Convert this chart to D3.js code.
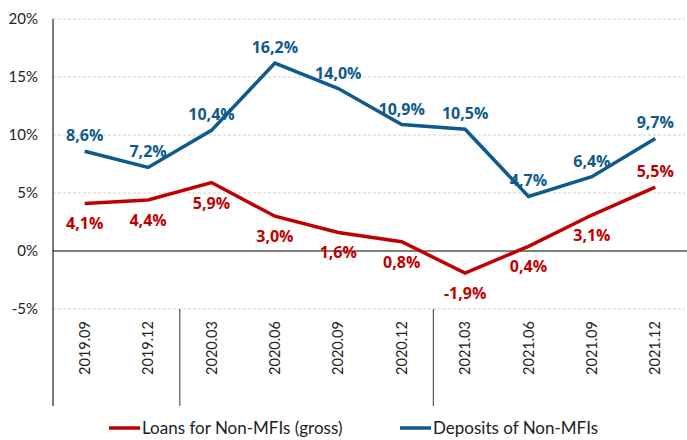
<!DOCTYPE html>
<html>
<head>
<meta charset="utf-8">
<script src="https://cdn.jsdelivr.net/npm/d3@7"></script>
<style>
  body { margin: 0; background: #fff; }
  text { font-family: Lato, "Noto Sans", sans-serif; }
</style>
</head>
<body>
<div id="chart"></div>
<script>
const categories = ['2019.09', '2019.12', '2020.03', '2020.06', '2020.09', '2020.12', '2021.03', '2021.06', '2021.09', '2021.12'];
const loans = [4.1, 4.4, 5.9, 3.0, 1.6, 0.8, -1.9, 0.4, 3.1, 5.5];
const deposits = [8.6, 7.2, 10.4, 16.2, 14.0, 10.9, 10.5, 4.7, 6.4, 9.7];
const yTicks = [-5, 0, 5, 10, 15, 20];
const loansLabelAbove = [false, false, false, false, false, false, false, false, false, true];

const series = [
  {name: 'Loans for Non-MFIs (gross)', values: loans, color: '#c00000', above: loansLabelAbove},
  {name: 'Deposits of Non-MFIs', values: deposits, color: '#0f5a8c', above: deposits.map(() => true)}
];

const W = 687, H = 440;
const margin = {top: 19, right: 0, bottom: 131, left: 53};
const width = W - margin.left - margin.right;
const height = H - margin.top - margin.bottom;
const fmt = v => d3.format('.1f')(v).replace('.', ',').replace('\u2212', '-') + '%';

const svg = d3.select('#chart')
  .append('svg')
  .attr('width', W)
  .attr('height', H);
const g = svg.append('g')
  .attr('transform', `translate(${margin.left}, ${margin.top})`);

const x = d3.scaleBand()
  .domain(categories)
  .range([0, width]);
const y = d3.scaleLinear()
  .domain([-5, 20])
  .range([height, 0]);

// grid
g.selectAll('.grid')
  .data(yTicks.filter(d => d !== 0))
  .join('line')
  .attr('class', 'grid')
  .attr('x1', 0)
  .attr('x2', width - 2)
  .attr('y1', d => y(d))
  .attr('y2', d => y(d))
  .attr('stroke', '#d0d0d0')
  .attr('stroke-width', 1)
  .attr('stroke-dasharray', '3,2');

// y axis
const yAxis = g.append('g')
  .call(d3.axisLeft(y).tickValues(yTicks).tickSize(0).tickPadding(15).tickFormat(d => d + '%'))
  .call(g => g.select('.domain').remove());
yAxis.selectAll('text')
  .attr('font-size', 15)
  .attr('fill', '#222')
  .style('font-family', 'Lato, sans-serif');

// vertical axis line
g.append('line')
  .attr('x1', 0).attr('x2', 0)
  .attr('y1', 0).attr('y2', height + 97)
  .attr('stroke', '#333').attr('stroke-width', 1.3);

// zero line
g.append('line')
  .attr('x1', 0).attr('x2', width)
  .attr('y1', y(0)).attr('y2', y(0))
  .attr('stroke', '#000').attr('stroke-width', 1.2);

// category group separators
g.selectAll('.sep')
  .data(categories.filter((d, i) => i > 0 && d.endsWith('.03')))
  .join('line')
  .attr('class', 'sep')
  .attr('x1', d => x(d)).attr('x2', d => x(d))
  .attr('y1', height).attr('y2', height + 97)
  .attr('stroke', '#555').attr('stroke-width', 1.2);

// x labels
const xAxis = g.append('g')
  .attr('transform', `translate(0, ${height})`)
  .call(d3.axisBottom(x).tickSize(0))
  .call(g => g.select('.domain').remove());
xAxis.selectAll('text')
  .attr('font-size', 14.5)
  .attr('fill', '#222')
  .style('font-family', 'Lato, sans-serif')
  .attr('text-anchor', 'middle')
  .attr('dy', null)
  .attr('y', 0)
  .attr('transform', 'translate(5, 39) rotate(-90)');

const line = d3.line()
  .x((d, i) => x(categories[i]) + x.bandwidth() / 2)
  .y(d => y(d));

series.forEach(s => {
  g.append('path')
    .datum(s.values)
    .attr('fill', 'none')
    .attr('stroke', s.color)
    .attr('stroke-width', 3.5)
    .attr('stroke-linejoin', 'miter')
    .attr('d', line);

  g.selectAll(null)
    .data(s.values)
    .join('text')
    .text(d => fmt(d))
    .attr('x', (d, i) => x(categories[i]) + x.bandwidth() / 2)
    .attr('y', (d, i) => y(d) + (s.above[i] ? -10 : 26))
    .attr('text-anchor', 'middle')
    .attr('font-size', 16)
    .attr('font-weight', 'bold')
    .style('font-family', '"Open Sans", sans-serif')
    .attr('fill', s.color);
});

// legend
const legend = svg.append('g')
  .attr('transform', `translate(109, 428)`);
series.forEach((s, i) => {
  const item = legend.append('g').attr('transform', `translate(${i === 0 ? 0 : 291}, 0)`);
  item.append('line')
    .attr('x1', 0).attr('x2', 31)
    .attr('y1', 0).attr('y2', 0)
    .attr('stroke', s.color).attr('stroke-width', 3.5);
  item.append('text')
    .attr('x', 33)
    .attr('y', 6)
    .attr('font-size', 17)
    .attr('fill', '#222')
    .text(s.name);
});
</script>
</body>
</html>
